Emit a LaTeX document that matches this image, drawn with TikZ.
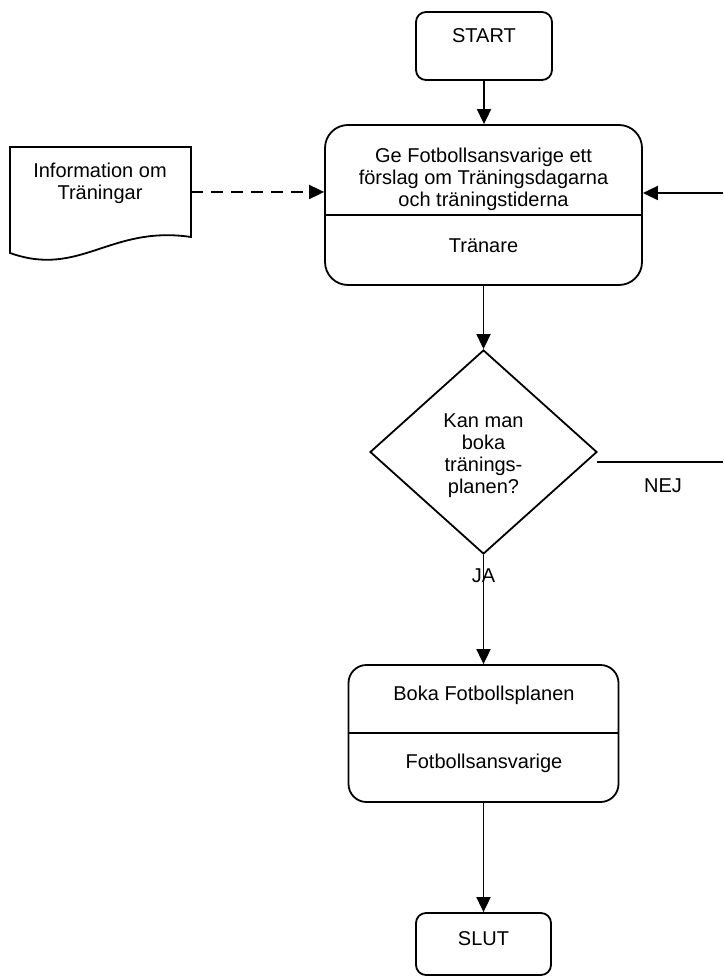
\documentclass[tikz,border=0pt]{standalone}
\usepackage{fontspec}
\setmainfont{Liberation Sans}
\usetikzlibrary{shapes.geometric,arrows.meta}
\begin{document}
\begin{tikzpicture}[x=0.5pt,y=-0.5pt,
  every node/.style={font=\fontsize{10pt}{11pt}\selectfont, inner sep=0pt},
  line/.style={line width=0.9pt},
  arr/.style={line, -{Triangle[length=7.5pt,width=7pt]}},
  boxshape/.style={draw, line width=0.9pt, rounded corners=#1},
  txt/.style={align=center}
]
\useasboundingbox (0,0) rectangle (723,977);

% boxes
\node[boxshape=5pt, minimum width=68pt, minimum height=34pt] (start) at (484,46) {};
\node[boxshape=11.5pt, minimum width=158.5pt, minimum height=80pt] (main) at (483.5,205) {};
\node[draw, line, diamond, minimum width=113.5pt, minimum height=102pt] (dec) at (483.5,452) {};
\node[boxshape=9pt, minimum width=135pt, minimum height=68.5pt] (boka) at (483.5,733.5) {};
\node[boxshape=5pt, minimum width=67.5pt, minimum height=31pt] (slut) at (483.5,944) {};

% dividers
\coordinate (divmain) at (0,215);
\coordinate (divboka) at (0,733);
\draw[line] (main.west |- divmain) -- (main.east |- divmain);
\draw[line] (boka.west |- divboka) -- (boka.east |- divboka);

% document shape
\coordinate (docNW) at (10,147);
\coordinate (docNE) at (191,147);
\coordinate (docSE) at (191,237);
\coordinate (docSW) at (10,253);
\draw[line] (docNW) -- (docNE) -- (docSE) .. controls (110,225) and (80,278) .. (docSW) -- cycle;

% connectors
\coordinate (docE) at (191,192);
\draw[arr, dash pattern=on 6pt off 4pt] (docE) -- (main.west |- docE);
\coordinate (loopin) at (723,193);
\draw[arr] (loopin) -- (main.east |- loopin);
\draw[arr] (start.south) -- (start.south |- main.north);
\draw[arr] (main.south) -- (dec.north);
\draw[arr] (dec.south) -- (boka.north);
\draw[arr] (boka.south) -- (slut.north);
\coordinate (nejA) at (597,462);
\coordinate (nejB) at (723,462);
\draw[line] (nejA) -- (nejB);

% texts
\node[anchor=base] (tstart) at (484,43) {START};
\node[txt] (tmain) at (483.5,179) {Ge Fotbollsansvarige ett\\förslag om Träningsdagarna\\och träningstiderna};
\node[anchor=base] (tmainrole) at (483.5,253) {Tränare};
\node[txt] (tdoc) at (100,183) {Information om\\Träningar};
\node[txt] (tdec) at (483.5,455.5) {Kan man\\boka\\tränings-\\planen?};
\node[anchor=base] (tnej) at (663,492) {NEJ};
\node[anchor=base] (tja) at (483.5,582) {JA};
\node[anchor=base] (tboka) at (484,700) {Boka Fotbollsplanen};
\node[anchor=base] (tbokarole) at (484,768) {Fotbollsansvarige};
\node[anchor=base] (tslut) at (483.5,945) {SLUT};
\end{tikzpicture}
\end{document}
